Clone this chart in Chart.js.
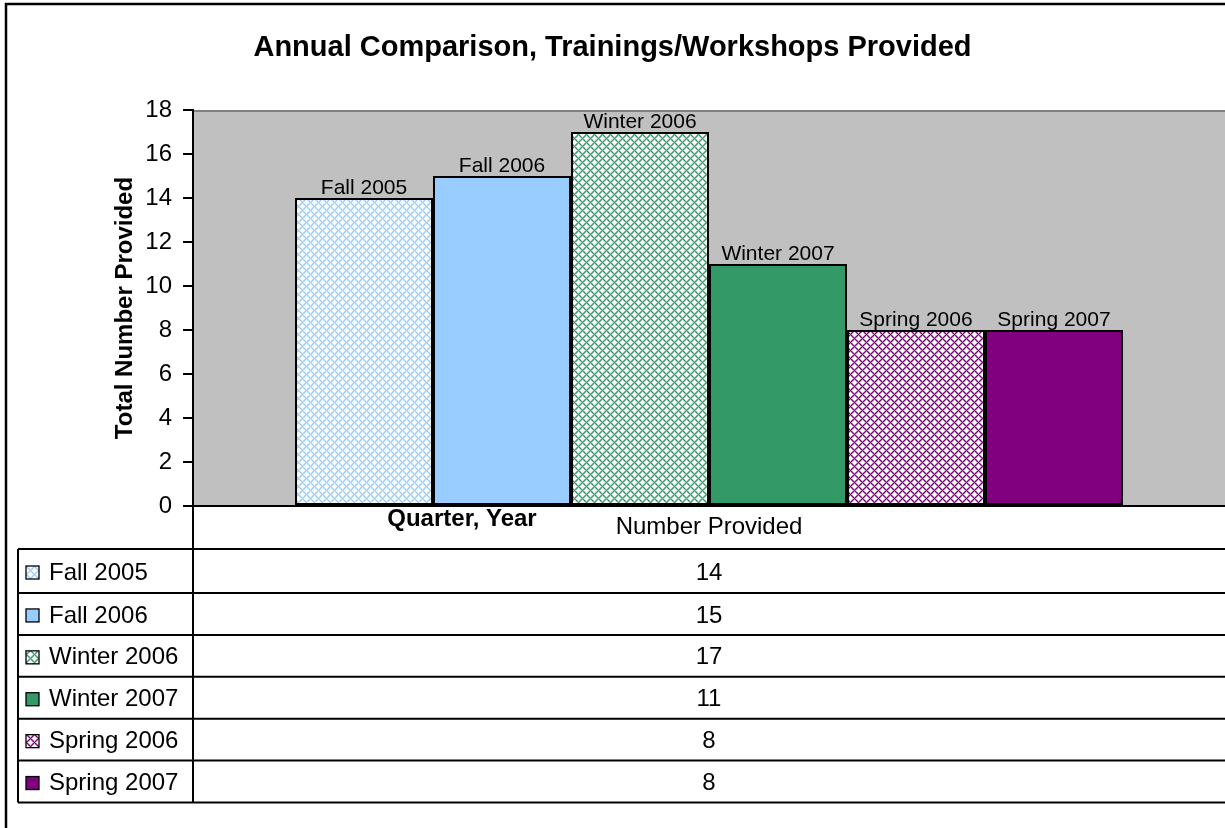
<!DOCTYPE html>
<html><head><meta charset="utf-8">
<script src="https://cdn.jsdelivr.net/npm/chart.js@4.4.0/dist/chart.umd.min.js"></script>
<style>html,body{margin:0;padding:0;background:#fff;overflow:hidden}#wrap{width:1225px;height:828px;position:relative}</style>
</head><body><div id="wrap"><canvas id="c" width="1225" height="828"></canvas></div>
<script>
// ---- data ----
const categories = ['Number Provided'];
const seriesNames = ['Fall 2005', 'Fall 2006', 'Winter 2006', 'Winter 2007', 'Spring 2006', 'Spring 2007'];
const seriesValues = [14, 15, 17, 11, 8, 8];
const seriesColors = ['#99CCFF', '#99CCFF', '#339966', '#339966', '#800080', '#800080'];
const seriesPatterned = [true, false, true, false, true, false];
const yMin = 0, yMax = 18, yStep = 2;
const chartTitle = 'Annual Comparison, Trainings/Workshops Provided';
const yAxisTitle = 'Total Number Provided';
const xAxisTitle = 'Quarter, Year';

// ---- styling / layout ----
const FONT = "'Liberation Sans', Arial, Helvetica, sans-serif";
const canvas = document.getElementById('c');
const ctx0 = canvas.getContext('2d');

function makePattern(color) {
  const t = document.createElement('canvas');
  t.width = 8; t.height = 8;
  const g = t.getContext('2d');
  g.fillStyle = color; g.fillRect(0, 0, 8, 8);
  g.fillStyle = '#fff';
  const centers = [[2, 2], [6, 6]];
  for (let y = 0; y < 8; y++) for (let x = 0; x < 8; x++) {
    let best = 99;
    for (const [cx, cy] of centers) {
      let dx = Math.abs(x - cx); dx = Math.min(dx, 8 - dx);
      let dy = Math.abs(y - cy); dy = Math.min(dy, 8 - dy);
      best = Math.min(best, dx + dy);
    }
    if (best <= 2) { g.globalAlpha = 1; g.fillRect(x, y, 1, 1); }
    else if (best === 3) { g.globalAlpha = 0.5; g.fillRect(x, y, 1, 1); }
  }
  g.globalAlpha = 1;
  return ctx0.createPattern(t, 'repeat');
}
const fills = seriesColors.map((c, i) => seriesPatterned[i] ? makePattern(c) : c);

const TABLE = { left: 18, firstLine: 549, secondLine: 593, rowStep: 41.9, rows: seriesNames.length };
function tableLines() {
  const ys = [TABLE.firstLine];
  for (let i = 0; i < TABLE.rows; i++) ys.push(TABLE.secondLine + i * TABLE.rowStep);
  return ys;
}

const bgPlugin = {
  id: 'bg',
  beforeDraw(chart) {
    const { ctx, chartArea: a } = chart;
    ctx.save();
    ctx.fillStyle = '#fff';
    ctx.fillRect(0, 0, chart.width, chart.height);
    ctx.strokeStyle = '#000'; ctx.lineWidth = 2.5;
    ctx.strokeRect(6, 4, chart.width + 20, chart.height + 20);
    ctx.fillStyle = '#C0C0C0';
    ctx.fillRect(a.left, a.top, a.right - a.left, a.bottom - a.top);
    ctx.strokeStyle = '#808080'; ctx.lineWidth = 2;
    ctx.beginPath(); ctx.moveTo(a.left, a.top + 1); ctx.lineTo(a.right, a.top + 1); ctx.stroke();
    ctx.restore();
  }
};

const labelPlugin = {
  id: 'barLabels',
  afterDatasetsDraw(chart) {
    const { ctx } = chart;
    ctx.save();
    ctx.font = '21px ' + FONT;
    ctx.fillStyle = '#000';
    ctx.textAlign = 'center';
    ctx.textBaseline = 'alphabetic';
    chart.data.datasets.forEach((ds, i) => {
      const el = chart.getDatasetMeta(i).data[0];
      ctx.fillText(ds.label, el.x, el.y - 4);
    });
    ctx.restore();
  }
};

const tablePlugin = {
  id: 'dataTable',
  afterDraw(chart) {
    const { ctx, chartArea: a } = chart;
    const ys = tableLines();
    const xs = chart.scales.x;
    ctx.save();
    ctx.strokeStyle = '#000'; ctx.lineWidth = 2;
    ctx.beginPath();
    ys.forEach(y => { ctx.moveTo(TABLE.left, y); ctx.lineTo(chart.width, y); });
    ctx.moveTo(a.left, a.bottom); ctx.lineTo(a.left, ys[ys.length - 1]);
    ctx.moveTo(TABLE.left, ys[0]); ctx.lineTo(TABLE.left, ys[ys.length - 1]);
    ctx.stroke();

    ctx.fillStyle = '#000';
    ctx.font = 'bold 24px ' + FONT;
    ctx.textAlign = 'center'; ctx.textBaseline = 'middle';
    ctx.fillText(xAxisTitle, 462, 519);

    ctx.font = '24px ' + FONT;
    const cx = xs.getPixelForValue(0);
    chart.data.datasets.forEach((ds, i) => {
      const cy = (ys[i] + ys[i + 1]) / 2 + 2;
      ctx.fillStyle = ds.backgroundColor;
      ctx.fillRect(26, cy - 7, 13, 13);
      ctx.strokeStyle = '#000'; ctx.lineWidth = 1.3;
      ctx.strokeRect(26, cy - 7, 13, 13);
      ctx.fillStyle = '#000';
      ctx.textAlign = 'left';
      ctx.fillText(ds.label, 49, cy);
      ctx.textAlign = 'center';
      ctx.fillText(String(ds.data[0]), cx, cy);
    });
    ctx.restore();
  }
};

new Chart(canvas, {
  type: 'bar',
  data: {
    labels: categories,
    datasets: seriesNames.map((n, i) => ({
      label: n,
      data: [seriesValues[i]],
      backgroundColor: fills[i],
      borderColor: '#000',
      borderWidth: 2,
      borderSkipped: false,
      categoryPercentage: 0.8023,
      barPercentage: 1.0
    }))
  },
  options: {
    responsive: false,
    devicePixelRatio: 1,
    animation: false,
    layout: { padding: { left: 0, right: 0, top: 0, bottom: 828 - TABLE.firstLine } },
    plugins: {
      legend: { display: false },
      tooltip: { enabled: false },
      title: {
        display: true, text: chartTitle, color: '#000',
        font: { family: FONT, size: 29, weight: 'bold' },
        padding: { top: 31, bottom: 44.2 }
      }
    },
    scales: {
      x: {
        type: 'category',
        ticks: { color: '#000', font: { family: FONT, size: 24 }, padding: 7 },
        grid: { display: false, drawTicks: false },
        border: { display: true, color: '#000', width: 2 },
        afterFit(s) { s.height = TABLE.firstLine - 506; }
      },
      y: {
        min: yMin, max: yMax,
        ticks: { stepSize: yStep, color: '#000', font: { family: FONT, size: 24 }, padding: 11 },
        grid: { drawOnChartArea: false, drawTicks: true, tickLength: 10, color: '#000', lineWidth: 2 },
        border: { display: true, color: '#000', width: 2 },
        title: {
          display: true, text: yAxisTitle, color: '#000',
          font: { family: FONT, size: 24, weight: 'bold' },
          padding: { top: 111, bottom: 0 }
        },
        afterFit(s) { s.width = 193; }
      }
    }
  },
  plugins: [bgPlugin, labelPlugin, tablePlugin]
});
</script></body></html>
